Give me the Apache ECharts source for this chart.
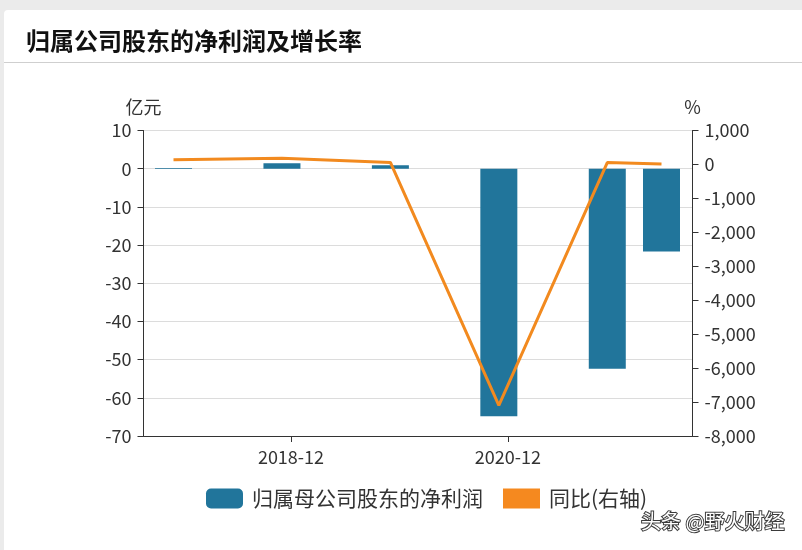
<!DOCTYPE html>
<html>
<head>
<meta charset="utf-8">
<script src="https://cdn.jsdelivr.net/npm/echarts@6/dist/echarts.min.js"></script>
<style>
html,body{margin:0;padding:0;background:#ebebeb;width:802px;height:550px;overflow:hidden;}
#card{position:absolute;left:4px;top:10px;width:820px;height:560px;background:#fff;border-radius:4px;}
#hline{position:absolute;left:4px;top:62px;width:800px;height:1px;background:#cfcfcf;}
#chart{position:absolute;left:0;top:0;width:802px;height:550px;}
</style>
</head>
<body>
<div id="card"></div>
<div id="hline"></div>
<div id="chart"></div>
<script>
// ---- data ----
const periods = ['2017-12','2018-12','2019-12','2020-12','2021-12','2022-06'];
const netProfit = [0.2, 1.4, 0.9, -64.8, -52.4, -21.7];      // 亿元
const yoyGrowth = [140, 180, 60, -7100, 55, 10];              // %
const xTickLabels = ['2018-12','2020-12'];
const leftTicks = {min:-70, max:10, interval:10};
const rightTicks = {min:-8000, max:1000, interval:1000};

const FONT = '"Noto Sans CJK SC","Noto Sans",sans-serif';
// month index counted from 2017-01 = 1
function monthIdx(s){const [y,m]=s.split('-').map(Number);return (y-2017)*12+m;}
// label ticks sit at the end of their month
const tickVals = xTickLabels.map(s=>monthIdx(s)+1);

const barData = periods.map((p,i)=>[monthIdx(p), netProfit[i]]);
const lineData = periods.map((p,i)=>[monthIdx(p), yoyGrowth[i]]);

const chart = echarts.init(document.getElementById('chart'), null, {renderer:'canvas'});
chart.setOption({
  animation:false,
  textStyle:{fontFamily:FONT},
  title:{text:'归属公司股东的净利润及增长率', left:21, top:24,
    textStyle:{fontSize:24, fontWeight:'bold', color:'#111', fontFamily:FONT}},
  grid:{left:143.5, right:109.5, top:130.5, bottom:114, containLabel:false},
  legend:{
    left:206, top:488, padding:0, itemWidth:37, itemHeight:20, itemGap:20,
    textStyle:{fontSize:21, color:'#333', fontFamily:FONT, padding:[0,0,0,4]},
    data:[{name:'归属母公司股东的净利润', icon:'roundRect'},{name:'同比(右轴)', icon:'rect'}]
  },
  xAxis:{
    type:'value',
    min:8.68, max:69.43,
    axisLine:{show:true, onZero:false, lineStyle:{color:'#333', width:1}},
    axisTick:{show:true, length:6, lineStyle:{color:'#333'}, customValues:tickVals},
    axisLabel:{show:true, margin:12, fontSize:18, color:'#333', fontFamily:FONT,
      customValues:tickVals,
      formatter:function(v){const k=tickVals.findIndex(t=>Math.abs(t-v)<0.5);return k>=0?xTickLabels[k]:'';}},
    splitLine:{show:false}
  },
  yAxis:[{
    type:'value', min:leftTicks.min, max:leftTicks.max, interval:leftTicks.interval,
    name:'亿元', nameLocation:'end', nameGap:14,
    nameTextStyle:{fontSize:18, color:'#333', fontFamily:FONT},
    axisLine:{show:true, lineStyle:{color:'#333', width:1}},
    axisTick:{show:true, length:6, lineStyle:{color:'#333'}},
    axisLabel:{margin:12, fontSize:18, color:'#333', fontFamily:FONT},
    splitLine:{show:true, lineStyle:{color:'#dcdcdc', width:1}}
  },{
    type:'value', position:'right', min:rightTicks.min, max:rightTicks.max, interval:rightTicks.interval,
    name:'%', nameLocation:'end', nameGap:14,
    nameTextStyle:{fontSize:18, color:'#333', fontFamily:FONT},
    axisLine:{show:true, lineStyle:{color:'#333', width:1}},
    axisTick:{show:true, length:6, lineStyle:{color:'#333'}},
    axisLabel:{margin:12, fontSize:18, color:'#333', fontFamily:FONT},
    splitLine:{show:false}
  }],
  series:[{
    name:'归属母公司股东的净利润', type:'bar', yAxisIndex:0,
    barWidth:37, itemStyle:{color:'#21759b'}, data:barData, z:2
  },{
    name:'同比(右轴)', type:'line', yAxisIndex:1,
    showSymbol:false, symbol:'none', lineStyle:{color:'#f28a1f', width:3},
    itemStyle:{color:'#f5891f'}, data:lineData, z:3
  }],
  graphic:[{
    type:'text', left:640, top:510,
    style:{text:'头条 @野火财经', fill:'#ffffff', stroke:'#3a3a3a', lineWidth:2,
      font:'20px '+FONT}
  }]
});
</script>
</body>
</html>
